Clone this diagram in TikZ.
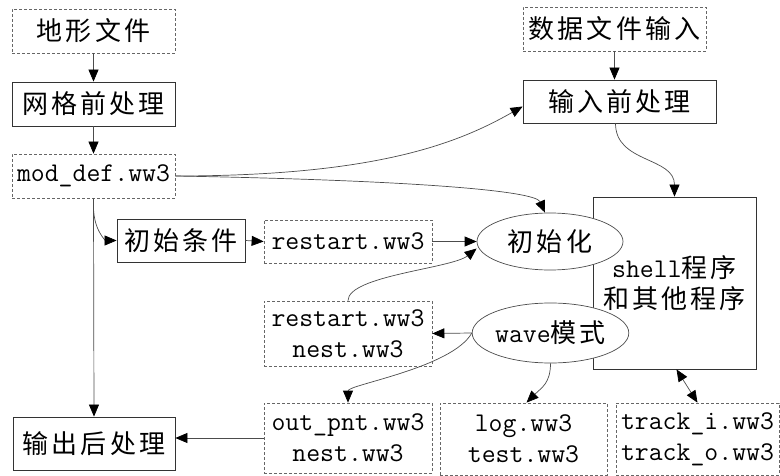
\documentclass[tikz,border=0pt]{standalone}
\usepackage{fontspec}
\newfontfamily\cjk{Noto Sans CJK SC}[LetterSpace=12]
\usetikzlibrary{arrows.meta,shapes.geometric,calc}
\newcommand\lat[1]{{\ttfamily\fontsize{27}{31}\selectfont #1}}
\begin{document}
\begin{tikzpicture}[x=1pt,y=-1pt,
  base/.style={font=\cjk\fontsize{26}{31}\selectfont, inner sep=0pt, align=center},
  solidbox/.style={base, rectangle, draw=black!80, line width=0.8pt},
  dashbox/.style={base, rectangle, draw=black!60, line width=0.7pt, dash pattern=on 3pt off 2pt},
  oval/.style={base, ellipse, draw=black!70, line width=0.7pt, fill=white},
  tip/.tip={Triangle[length=12pt,width=10pt,color=black]},
  arr/.style={draw=black!70, line width=0.7pt, -tip},
  dblarr/.style={draw=black!70, line width=0.7pt, tip-tip},
]
\useasboundingbox (0,0) rectangle (780,476);

% nodes
\node[dashbox, minimum width=163pt, minimum height=44pt] (dx) at (93.5,31) {地形文件};
\node[solidbox, minimum width=163pt, minimum height=44pt] (grid) at (93.5,104) {网格前处理};
\node[dashbox, minimum width=163pt, minimum height=44pt] (moddef) at (93.5,176) {\lat{mod\_def.ww3}};
\node[dashbox, minimum width=183pt, minimum height=44pt] (data) at (614.5,29) {数据文件输入};
\node[solidbox, minimum width=193pt, minimum height=43pt] (inpre) at (619.5,101.5) {输入前处理};
\node[solidbox, minimum width=163pt, minimum height=172pt] (shell) at (674.5,283) {\lat{shell}程序\\和其他程序};
\node[oval, minimum width=146pt, minimum height=57pt] (init) at (550,241.5) {初始化};
\node[oval, minimum width=155pt, minimum height=60pt] (wave) at (550.5,333) {\lat{wave}模式};
\node[solidbox, minimum width=128pt, minimum height=43pt] (initcond) at (181,240.5) {初始条件};
\node[dashbox, minimum width=168pt, minimum height=43pt] (rst1) at (348,241.5) {\lat{restart.ww3}};
\node[dashbox, minimum width=168pt, minimum height=65pt] (rst2) at (348,333.5) {\lat{restart.ww3}\\\lat{nest.ww3}};
\node[solidbox, minimum width=162pt, minimum height=53pt] (outpost) at (94,443.5) {输出后处理};
\node[dashbox, minimum width=168pt, minimum height=70pt] (outpnt) at (348,438) {\lat{out\_pnt.ww3}\\\lat{nest.ww3}};
\node[dashbox, minimum width=167pt, minimum height=72pt] (log) at (523.5,439) {\lat{log.ww3}\\\lat{test.ww3}};
\node[dashbox, minimum width=163pt, minimum height=72pt] (track) at (697.5,439) {\lat{track\_i.ww3}\\\lat{track\_o.ww3}};

\coordinate (br) at ($(moddef.south)+(0,8)$);

% connectors
\draw[arr] (dx) -- (grid);
\draw[arr] (grid) -- (moddef);
\draw[arr] (data.south -| 614.5,0) -- (inpre.north -| 614.5,0);
\draw[arr] (moddef.east) .. controls (380,176) and (460,142) .. ([yshift=-5pt]inpre.west);
\draw[arr] (moddef.east) .. controls (400,180) and (535,190) .. ([xshift=-5pt]init.north);
\draw[arr] (moddef.south) -- (outpost.north);
\draw[arr] (br) .. controls +(0,25) and +(-10,0) .. (initcond.west);
\draw[arr] (initcond.east) -- (rst1.west);
\draw[arr] (rst1.east) -- (init.west);
\draw[arr] (rst2.north) .. controls +(0,-25) and +(-25,20) .. ([yshift=-7pt]init.west);
\draw[arr] (wave.west) -- (rst2.east);
\draw[arr] (wave.west) .. controls +(-20,35) and +(0,-18) .. (outpnt.north);
\draw[arr] (wave.south) .. controls +(0,20) and +(15,-15) .. ([xshift=3pt]log.north);
\draw[dblarr] ([xshift=2pt]shell.south) -- (track.north);
\draw[arr] ([xshift=-4pt]inpre.south) .. controls +(0,40) and +(0,-40) .. (shell.north);
\draw[arr] (outpnt.west) -- (outpnt.west -| outpost.east);
\end{tikzpicture}
\end{document}
